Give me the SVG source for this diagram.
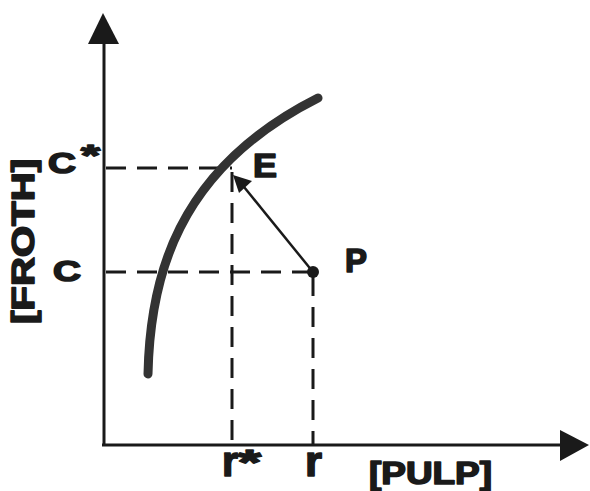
<svg xmlns="http://www.w3.org/2000/svg" width="590" height="491" viewBox="0 0 590 491">
<defs>
<style>
.lbl{font-family:"Liberation Sans",Arial,sans-serif;font-weight:bold;fill:#1a1a1a;stroke:#1a1a1a;stroke-width:1.6;stroke-linejoin:round}
.axis{stroke:#1a1a1a;stroke-width:3;fill:none}
.dash{stroke:#1a1a1a;stroke-width:3;fill:none;stroke-dasharray:20 11}
</style>
</defs>
<rect width="590" height="491" fill="#ffffff"/>
<g id="connectors">
<line class="dash" x1="106" y1="168" x2="232" y2="168"/>
<line class="dash" x1="232" y1="172" x2="232" y2="445"/>
<line class="dash" x1="106" y1="272" x2="313" y2="272"/>
<line class="dash" x1="313" y1="276" x2="313" y2="445"/>
<line x1="313" y1="272" x2="240" y2="182" stroke="#1a1a1a" stroke-width="2.5"/>
<path d="M233,175 L252,181 L239,193 z" fill="#1a1a1a"/>
</g>
<g id="axes">
<line class="axis" x1="104" y1="445" x2="104" y2="40"/>
<path d="M103,13 L119,44 L88,44 z" fill="#1a1a1a"/>
<line class="axis" x1="102" y1="445" x2="562" y2="445"/>
<path d="M589,445 L560,430 L560,461 z" fill="#1a1a1a"/>
</g>
<g id="curve">
<path d="M148,374 C150,280 175,170 318,98" stroke="#333" stroke-width="9" fill="none" stroke-linecap="round"/>
</g>
<g id="point-P">
<circle cx="313" cy="272" r="6" fill="#1a1a1a"/>
<text class="lbl" x="345" y="272" font-size="33" textLength="22" lengthAdjust="spacingAndGlyphs">P</text>
</g>
<g id="point-E">
<text class="lbl" x="253" y="177" font-size="33" textLength="24" lengthAdjust="spacingAndGlyphs">E</text>
</g>
<g id="label-Cstar">
<text class="lbl" x="48" y="173" font-size="29" textLength="28" lengthAdjust="spacingAndGlyphs">C</text>
<text class="lbl" x="81" y="165" font-size="30" textLength="19" lengthAdjust="spacingAndGlyphs">*</text>
</g>
<g id="label-C">
<text class="lbl" x="53" y="281" font-size="29" textLength="28" lengthAdjust="spacingAndGlyphs">C</text>
</g>
<g id="label-rstar">
<text class="lbl" x="222" y="476" font-size="43" textLength="16" lengthAdjust="spacingAndGlyphs">r</text>
<text class="lbl" x="238" y="474" font-size="35" textLength="23" lengthAdjust="spacingAndGlyphs">*</text>
</g>
<g id="label-r">
<text class="lbl" x="305" y="476" font-size="43" textLength="17" lengthAdjust="spacingAndGlyphs">r</text>
</g>
<g id="label-pulp">
<text class="lbl" x="369" y="484" font-size="31" textLength="123" lengthAdjust="spacingAndGlyphs">[PULP]</text>
</g>
<g id="label-froth">
<text class="lbl" transform="translate(34,324) rotate(-90)" x="0" y="0" font-size="31" textLength="165" lengthAdjust="spacingAndGlyphs">[FROTH]</text>
</g>
</svg>
